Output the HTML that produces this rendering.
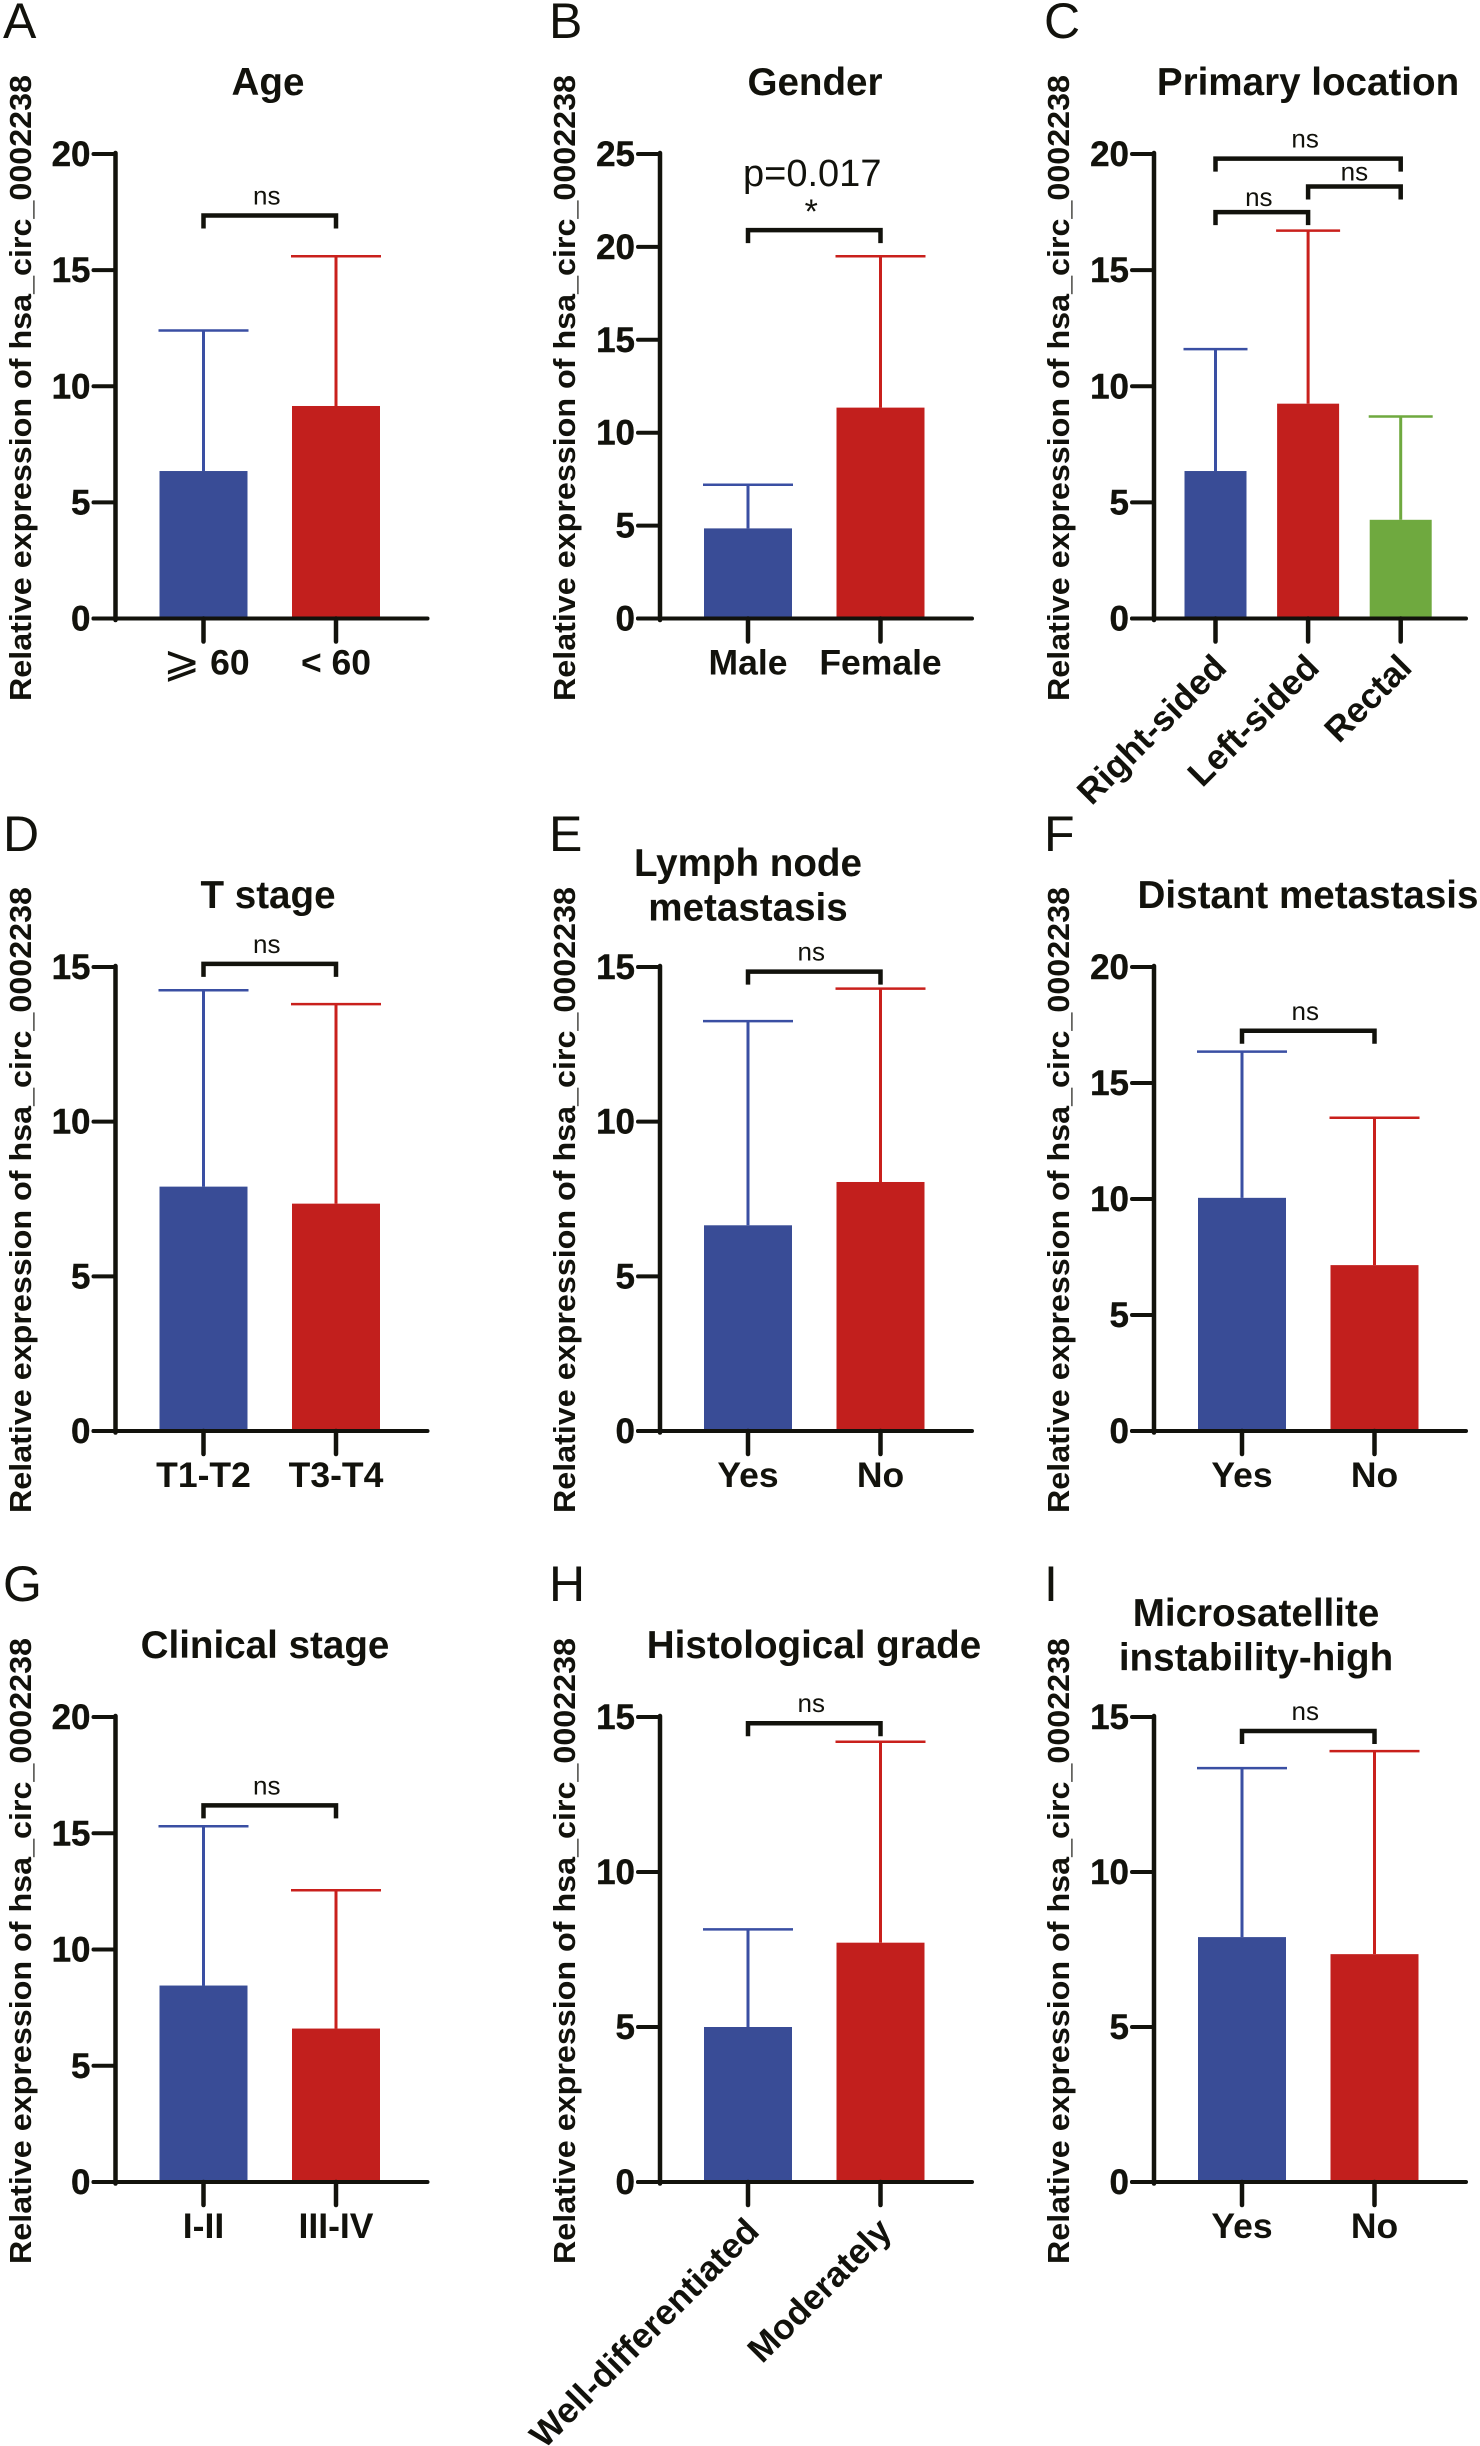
<!DOCTYPE html>
<html lang="en">
<head>
<meta charset="utf-8">
<title>Relative expression of hsa_circ_0002238 by clinical feature</title>
<style>
html,body{margin:0;padding:0;background:#fff;width:1480px;height:2446px;overflow:hidden}
svg{display:block}
text{font-family:"Liberation Sans",Arial,sans-serif;fill:#12120c}
</style>
</head>
<body>
<svg id="figure" xmlns="http://www.w3.org/2000/svg" width="1480" height="2446" viewBox="0 0 1480 2446"></svg>
<script>
// ---- data, one entry per panel A..I ----
const panelLetters = ['A','B','C','D','E','F','G','H','I'];
const panelTitles = [['Age'],['Gender'],['Primary location'],['T stage'],['Lymph node','metastasis'],['Distant metastasis'],['Clinical stage'],['Histological grade'],['Microsatellite','instability-high']];
const categories = [['\u2A7E 60','< 60'],['Male','Female'],['Right-sided','Left-sided','Rectal'],['T1-T2','T3-T4'],['Yes','No'],['Yes','No'],['I-II','III-IV'],['Well-differentiated','Moderately'],['Yes','No']];
const means = [[6.35,9.15],[4.85,11.35],[6.35,9.25,4.25],[7.9,7.35],[6.65,8.05],[10.05,7.15],[8.45,6.6],[5.0,7.72],[7.9,7.35]];
const errorTops = [[12.4,15.6],[7.2,19.5],[11.6,16.7,8.7],[14.25,13.8],[13.25,14.3],[16.35,13.5],[15.3,12.55],[8.15,14.2],[13.35,13.9]];
const tickLabels = [[0,5,10,15,20],[0,5,10,15,20,25],[0,5,10,15,20],[0,5,10,15],[0,5,10,15],[0,5,10,15,20],[0,5,10,15,20],[0,5,10,15],[0,5,10,15]];
const bracketLevels = [[17.35],[20.9],[17.5,18.6,19.8],[15.1],[14.85],[17.25],[16.2],[14.8],[14.55]];
const bracketFrom = [[0],[0],[0,1,0],[0],[0],[0],[0],[0],[0]];
const bracketTo = [[1],[1],[1,2,2],[1],[1],[1],[1],[1],[1]];
const bracketLabels = [['ns'],['*'],['ns','ns','ns'],['ns'],['ns'],['ns'],['ns'],['ns'],['ns']];
const yAxisTitle = 'Relative expression of hsa_circ_0002238';
const pValueNote = 'p=0.017';

// ---- layout ----
const colAxisX = [115.5, 660, 1154];
const rowZeroY = [618.5, 1431, 2182];
const rowTopY = [154, 967, 1717];
const rowTitleBottom = [701, 1513, 2264];
const colYTitleX = [31, 575, 1069];
const colLetterX = [3, 549, 1044];
const rowLetterY = [37, 850, 1600];
const titleCenterX = [268, 815, 1308, 268, 748, 1308, 265, 814, 1256];
const rowTitleY = [95, 908, 1658];
const barColors = ['#394c96','#c21f1d','#6fa93f'];
const errColors = ['#3a4fa3','#c9201c','#6fa93f'];
const ink = '#12120c';
const svg = document.getElementById('figure');
const NS = 'http://www.w3.org/2000/svg';

function make(tag, parent, attrs, content){
  const el = document.createElementNS(NS, tag);
  for (const k in attrs) el.setAttribute(k, attrs[k]);
  if (content !== undefined) el.textContent = content;
  parent.appendChild(el);
  return el;
}
function seg(parent, x1, y1, x2, y2, color, w, cap){
  return make('line', parent, {x1:x1, y1:y1, x2:x2, y2:y2, stroke:color, 'stroke-width':w, 'stroke-linecap':cap || 'butt'});
}

panelLetters.forEach(function(letter, p){
  const col = p % 3, row = Math.floor(p / 3);
  const axisX = colAxisX[col], y0 = rowZeroY[row], yTop = rowTopY[row];
  const domainMax = tickLabels[p][tickLabels[p].length - 1];
  const n = categories[p].length;
  const yScale = function(v){ return y0 - (v / domainMax) * (y0 - yTop); };
  const xScale = function(i){ return n === 3 ? axisX + 61.5 + 92.6 * i : axisX + 88 + 132.5 * i; };
  const barW = n === 3 ? 62 : 88;
  const capW = n === 3 ? 32 : 45;
  const axisEnd = axisX + 312;
  const slug = panelTitles[p].join('-').toLowerCase().replace(/[^a-z0-9]+/g, '-');

  const g = make('g', svg, {});
  
  

  const lt = make('text', g, {x:colLetterX[col], y:rowLetterY[row] + 1, 'font-size':50}, letter);
  
  

  const titleLines = panelTitles[p];
  titleLines.forEach(function(line, li){
    const baseY = titleLines.length === 2 ? rowTitleY[row] - 32 + li * 44.5 : rowTitleY[row];
    const t = make('text', g, {x:titleCenterX[p], y:baseY, 'text-anchor':'middle', 'font-size':38.6, 'font-weight':'bold'}, line);
    
    
  });

  const yt = make('text', g, {transform:'translate(' + colYTitleX[col] + ',' + rowTitleBottom[row] + ') rotate(-90)', 'font-size':31, 'font-weight':'bold', textLength:626, lengthAdjust:'spacingAndGlyphs'}, yAxisTitle);
  
  

  // bars and error bars
  means[p].forEach(function(m, i){
    const cx = xScale(i);
    const yb = yScale(m), ye = yScale(errorTops[p][i]);
    const stem = seg(g, cx, yb, cx, ye, errColors[i], 3);
    
    
    const cap = seg(g, cx - capW, ye, cx + capW, ye, errColors[i], 2.5);
    
    
    const bar = make('rect', g, {x:cx - barW / 2, y:yb, width:barW, height:y0 - yb, fill:barColors[i]});
    
    
  });

  // axes
  const yAxis = seg(g, axisX, yTop - 1, axisX, y0 + 1.5, ink, 4.5, 'round');
  
  
  const xAxis = seg(g, axisX - 22, y0, axisEnd, y0, ink, 4, 'round');
  
  

  tickLabels[p].forEach(function(v){
    const y = yScale(v);
    const tk = seg(g, axisX - 22, y, axisX, y, ink, 4, 'round');
    
    
    const tl = make('text', g, {x:axisX - 25, y:y + 12, 'text-anchor':'end', 'font-size':35, 'font-weight':'bold', stroke:ink, 'stroke-width':0.4}, String(v));
    
    
  });

  categories[p].forEach(function(c, i){
    const cx = xScale(i);
    const tk = seg(g, cx, y0, cx, y0 + 23, ink, 4.5, 'round');
    
    
    const rotated = p === 2 || p === 7;
    const attrs = rotated
      ? {transform:'translate(' + (cx + 13) + ',' + (y0 + 51) + ') rotate(-45)', 'text-anchor':'end', 'font-size':35.2, 'font-weight':'bold'}
      : {x:cx, y:y0 + 56, 'text-anchor':'middle', 'font-size':35.5, 'font-weight':'bold'};
    const xl = make('text', g, attrs);
    if (c.charAt(0) === '\u2A7E') {
      xl.setAttribute('x', cx + 3);
      const sym = make('tspan', xl, {'font-family':'"DejaVu Sans",sans-serif', 'font-weight':'normal', 'font-size':44, dy:2}, c.charAt(0));
      
      
      make('tspan', xl, {dy:-2}, c.slice(1));
    } else {
      xl.textContent = c;
    }
    
    
  });

  // significance brackets
  bracketLevels[p].forEach(function(level, b){
    const x1 = xScale(bracketFrom[p][b]), x2 = xScale(bracketTo[p][b]);
    const y = yScale(level);
    const br = make('path', g, {d:'M' + x1 + ' ' + (y + 13) + 'V' + y + 'H' + x2 + 'V' + (y + 13), fill:'none', stroke:ink, 'stroke-width':4.5});
    
    
    const star = bracketLabels[p][b] === '*';
    const stacked = n === 3 && b < 2;
    const labelGap = star ? 7 : (stacked ? 6 : 11);
    const labelShift = stacked && b === 1 ? 0 : -3;
    const bl = make('text', g, {x:(x1 + x2) / 2 + labelShift, y:y - labelGap, 'text-anchor':'middle', 'font-size':star ? 34 : 26}, bracketLabels[p][b]);
    
    
    if (star) {
      const pv = make('text', g, {x:(x1 + x2) / 2 - 2, y:y - 44, 'text-anchor':'middle', 'font-size':38}, pValueNote);
      
      
    }
  });
});
</script>
</body>
</html>
